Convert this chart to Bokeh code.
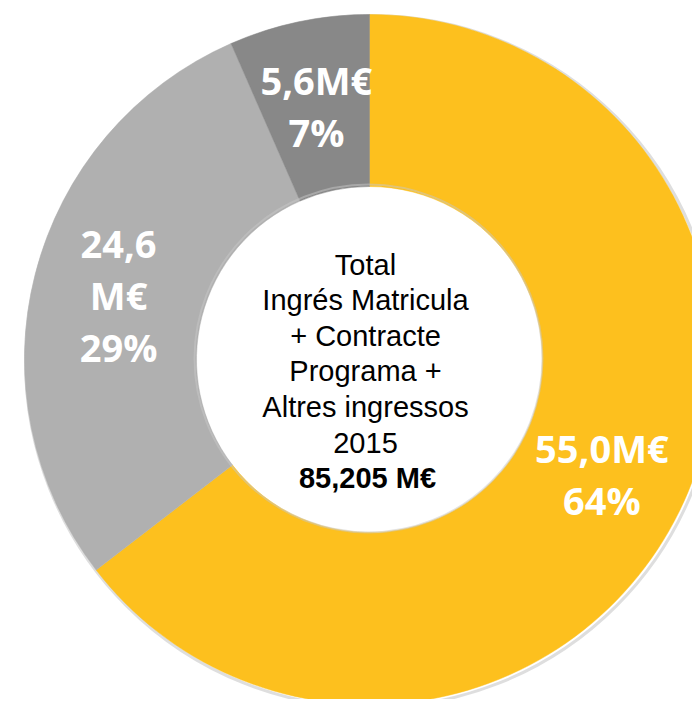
import numpy as np
from bokeh.plotting import figure
from bokeh.models import Range1d, ColumnDataSource
from bokeh.core.properties import value
from bokeh.embed import file_html
from bokeh.resources import INLINE

# ---- data ----
categories = ["Contracte Programa", "Ingrés Matricula", "Altres ingressos"]
values_meur = [55.0, 24.6, 5.6]
percents = [64, 29, 7]
value_labels = ["55,0M€", "24,6\nM€", "5,6M€"]
colors = ["#FDC01E", "#B0B0B0", "#888888"]
center_lines = ["Total", "Ingrés Matricula", "+ Contracte", "Programa +", "Altres ingressos", "2015"]
center_total = "85,205 M€"

# ---- layout (pixel-like data space) ----
W, H = 692, 699
cx, cy = 369, H - 359
r_out, r_in = 345, 173
r_lab = 259

vals = np.array(values_meur)
total = vals.sum()
cum = np.concatenate([[0], np.cumsum(vals)]) / total
start = np.pi / 2 - cum[:-1] * 2 * np.pi
end = np.pi / 2 - cum[1:] * 2 * np.pi
mid = (start + end) / 2

src = ColumnDataSource(dict(
    start=start, end=end, color=colors,
    lx=cx + r_lab * np.cos(mid), ly=cy + r_lab * np.sin(mid),
    label=[f"{v}\n{p}%" for v, p in zip(value_labels, percents)],
))

p = figure(width=W, height=H, x_range=Range1d(0, W), y_range=Range1d(0, H),
           output_backend="svg", toolbar_location=None, min_border=0)
p.axis.visible = False
p.grid.visible = False
p.outline_line_color = None
p.background_fill_color = "white"
p.border_fill_color = "white"

# soft shadow rings
p.circle(x=[cx + 2], y=[cy - 2], radius=r_out + 1, fill_color=None,
         line_color="#c8c8c8", line_width=3, line_alpha=0.6)

p.annular_wedge(x=cx, y=cy, inner_radius=r_in, outer_radius=r_out,
                start_angle="start", end_angle="end", direction="clock",
                fill_color="color", line_color="color", line_width=0.5, source=src)

p.circle(x=[cx - 1], y=[cy + 1], radius=r_in + 1, fill_color=None,
         line_color="#c8c8c8", line_width=2, line_alpha=0.5)

p.text(x="lx", y="ly", text="label", source=src, text_color="white",
       text_font=value("Open Sans"), text_font_style="bold", text_font_size="38px",
       text_align="center", text_baseline="middle", text_line_height=1.0)

line_h = 35.6
n = len(center_lines)
tx = cx - 4
ys = [cy + 6 + (n - 1) / 2 * line_h - i * line_h for i in range(n)]
p.text(x=[tx] * n, y=ys, text=center_lines, text_color="black",
       text_font=value("Liberation Sans"), text_font_size="29px",
       text_align="center", text_baseline="middle")
p.text(x=[tx + 2], y=[ys[-1] - line_h], text=[center_total], text_color="black",
       text_font=value("Liberation Sans"), text_font_style="bold", text_font_size="29px",
       text_align="center", text_baseline="middle")

open("out.html", "w").write(file_html(p, INLINE))
